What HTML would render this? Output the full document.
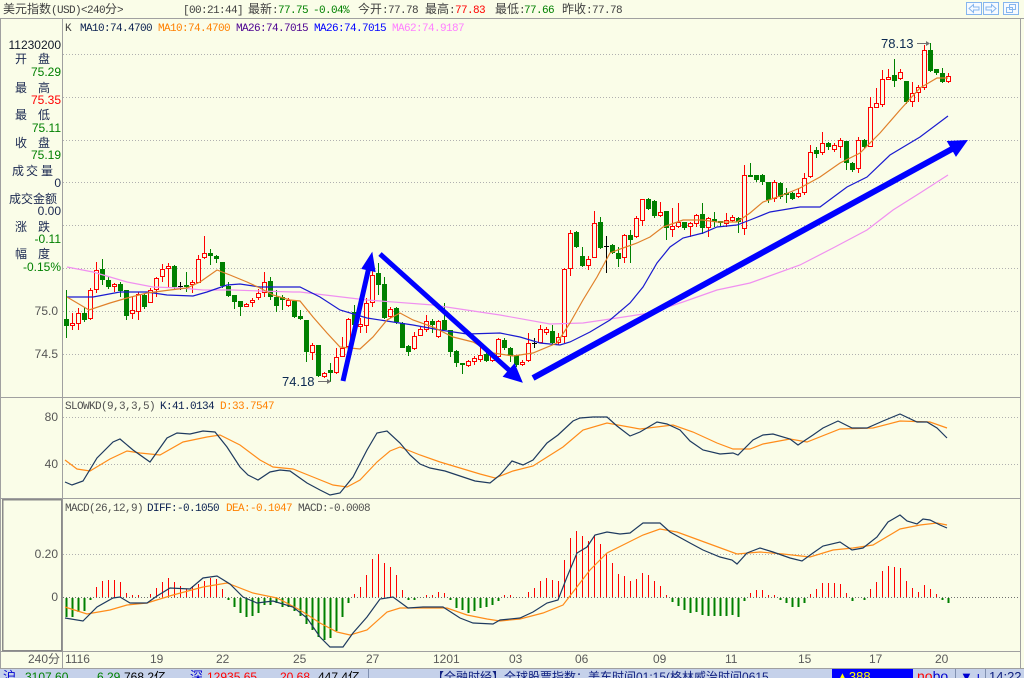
<!DOCTYPE html>
<html><head><meta charset="utf-8">
<style>
html,body{margin:0;padding:0;background:#fafde8;}
svg{display:block}
.m{font-family:"Liberation Mono",monospace;font-size:11px;letter-spacing:-0.6px}
.c{font-family:"Liberation Sans","WenQuanYi Zen Hei","Noto Sans CJK SC",sans-serif;font-size:12px;letter-spacing:0}
.s{font-family:"Liberation Sans","WenQuanYi Zen Hei","Noto Sans CJK SC",sans-serif;font-size:12px}
</style></head><body>
<svg width="1024" height="678" viewBox="0 0 1024 678" xmlns="http://www.w3.org/2000/svg">
<rect x="0" y="0" width="1024" height="678" fill="#fafde8"/>

<!-- header -->
<g class="m" fill="#404040">
<text x="3" y="13"><tspan class="c">美元指数</tspan>(USD)&lt;240<tspan class="c">分</tspan>&gt;</text>
<text x="183" y="13">[00:21:44]</text>
<text x="248" y="13"><tspan class="c">最新</tspan>:</text>
<text x="278" y="13" fill="#008000">77.75</text>
<text x="313" y="13" fill="#008000">-0.04%</text>
<text x="358" y="13"><tspan class="c">今开</tspan>:77.78</text>
<text x="425" y="13"><tspan class="c">最高</tspan>:</text>
<text x="455" y="13" fill="#ff0000">77.83</text>
<text x="495" y="13"><tspan class="c">最低</tspan>:</text>
<text x="524" y="13" fill="#008000">77.66</text>
<text x="562" y="13"><tspan class="c">昨收</tspan>:77.78</text>
</g>
<g stroke="#86b6ee" fill="#f6faff" shape-rendering="crispEdges">
<rect x="966.5" y="2.5" width="15" height="12"/>
<rect x="983.5" y="2.5" width="15" height="12"/>
<rect x="1003.5" y="2.5" width="15" height="12"/>
</g>
<g stroke="#86b6ee" fill="none">
<path d="M969 8.5 L973.5 4.5 V7 H979 V10 H973.5 V12.5 Z"/>
<path d="M996 8.5 L991.5 4.5 V7 H986 V10 H991.5 V12.5 Z"/>
<rect x="1009.5" y="4.5" width="6" height="5"/>
<rect x="1006.5" y="7.5" width="6" height="5"/>
</g>

<!-- frame lines -->
<g stroke="#a0a0a0" shape-rendering="crispEdges">
<line x1="0" y1="18.5" x2="1024" y2="18.5"/>
<line x1="0.5" y1="18" x2="0.5" y2="668"/>
<line x1="62.5" y1="18" x2="62.5" y2="668"/>
<line x1="1020.5" y1="18" x2="1020.5" y2="668"/>
<line x1="0" y1="397.5" x2="1021" y2="397.5"/>
<line x1="0" y1="498.5" x2="1021" y2="498.5"/>
<line x1="0" y1="651.5" x2="1021" y2="651.5"/>
<line x1="0" y1="668.5" x2="1024" y2="668.5"/>
</g>
<rect x="2.5" y="499.5" width="59" height="151" fill="none" stroke="#8a8a8a" stroke-width="1.5" shape-rendering="crispEdges"/>

<!-- grid -->
<g stroke="#b0b0b0" stroke-dasharray="1 2" shape-rendering="crispEdges">
<line x1="63" y1="54.5" x2="1020" y2="54.5"/>
<line x1="63" y1="97.5" x2="1020" y2="97.5"/>
<line x1="63" y1="140.5" x2="1020" y2="140.5"/>
<line x1="63" y1="182.5" x2="1020" y2="182.5"/>
<line x1="63" y1="225.5" x2="1020" y2="225.5"/>
<line x1="63" y1="268.5" x2="1020" y2="268.5"/>
<line x1="63" y1="311.5" x2="1020" y2="311.5"/>
<line x1="63" y1="354.5" x2="1020" y2="354.5"/>
<line x1="63" y1="417.5" x2="1020" y2="417.5"/>
<line x1="63" y1="464.5" x2="1020" y2="464.5"/>
<line x1="63" y1="554.5" x2="1020" y2="554.5"/>
</g>
<line x1="63" y1="597.5" x2="1020" y2="597.5" stroke="#707070" stroke-dasharray="1 2" shape-rendering="crispEdges"/>

<!-- titles -->
<g class="m">
<text x="65" y="31" fill="#404040">K</text>
<text x="80" y="31" fill="#0a2050">MA10:74.4700</text>
<text x="158" y="31" fill="#ff8000">MA10:74.4700</text>
<text x="236" y="31" fill="#4b0090">MA26:74.7015</text>
<text x="314" y="31" fill="#0000ff">MA26:74.7015</text>
<text x="392" y="31" fill="#ff80ff">MA62:74.9187</text>
<text x="65" y="409" fill="#505050">SLOWKD(9,3,3,5)</text>
<text x="160" y="409" fill="#0a2050">K:41.0134</text>
<text x="220" y="409" fill="#ff8000">D:33.7547</text>
<text x="65" y="511" fill="#505050">MACD(26,12,9)</text>
<text x="147" y="511" fill="#0a2050">DIFF:-0.1050</text>
<text x="226" y="511" fill="#ff8000">DEA:-0.1047</text>
<text x="298" y="511" fill="#505050">MACD:-0.0008</text>
</g>

<!-- left info panel -->
<g class="s" fill="#1a2850">
<text x="61" y="49" text-anchor="end" fill="#101828">11230200</text>
<text x="15" y="63">开</text><text x="38" y="63">盘</text>
<text x="61" y="76" text-anchor="end" fill="#008000">75.29</text>
<text x="15" y="92">最</text><text x="38" y="92">高</text>
<text x="61" y="104" text-anchor="end" fill="#ff0000">75.35</text>
<text x="15" y="119">最</text><text x="38" y="119">低</text>
<text x="61" y="132" text-anchor="end" fill="#008000">75.11</text>
<text x="15" y="147">收</text><text x="38" y="147">盘</text>
<text x="61" y="159" text-anchor="end" fill="#008000">75.19</text>
<text x="12" y="175">成</text><text x="26" y="175">交</text><text x="41" y="175">量</text>
<text x="61" y="187" text-anchor="end">0</text>
<text x="9" y="203">成交金额</text>
<text x="61" y="215" text-anchor="end">0.00</text>
<text x="15" y="231">涨</text><text x="38" y="231">跌</text>
<text x="61" y="243" text-anchor="end" fill="#008000">-0.11</text>
<text x="15" y="258">幅</text><text x="38" y="258">度</text>
<text x="61" y="271" text-anchor="end" fill="#008000">-0.15%</text>
</g>

<!-- y labels -->
<g class="s" fill="#555" text-anchor="end">
<text x="58" y="315">75.0</text>
<text x="58" y="358">74.5</text>
<text x="58" y="421">80</text>
<text x="58" y="468">40</text>
<text x="58" y="558">0.20</text>
<text x="58" y="601">0</text>
</g>

<!-- x labels -->
<g class="s" fill="#5a5a5a">
<text x="28" y="663">240分</text>
<text x="65" y="663">1116</text>
<text x="150" y="663">19</text>
<text x="216" y="663">22</text>
<text x="293" y="663">25</text>
<text x="366" y="663">27</text>
<text x="433" y="663">1201</text>
<text x="509" y="663">03</text>
<text x="575" y="663">06</text>
<text x="653" y="663">09</text>
<text x="725" y="663">11</text>
<text x="798" y="663">15</text>
<text x="869" y="663">17</text>
<text x="935" y="663">20</text>
</g>

<!-- candles -->
<g shape-rendering="crispEdges">
<path stroke="#008000" fill="none" d="M66.5 290V338M84.5 307V322M102.5 259V285M108.5 277V289M120.5 282V297M126.5 290V320M144.5 293V309M174.5 265V290M186.5 272V292M210.5 249V265M216.5 255V263M222.5 262V288M228.5 282V297M234.5 295V309M240.5 301V316M270.5 277V300M276.5 290V312M282.5 295V310M294.5 300V318M300.5 310V320M306.5 320V362M318.5 345V377M330.5 363V382M354.5 305V330M378.5 263V295M384.5 277V319M396.5 307V324M402.5 322V348M408.5 345V356M432.5 319V333M444.5 303V330M450.5 330V357M456.5 350V367M462.5 363V374M486.5 350V362M504.5 338V350M510.5 347V362M516.5 355V367M552.5 325V345M576.5 231V248M582.5 247V267M600.5 217V249M612.5 244V254M618.5 247V267M630.5 230V263M648.5 198V210M654.5 200V218M666.5 211V240M684.5 222V230M702.5 203V234M714.5 212V227M720.5 221V227M738.5 217V233M750.5 163V177M756.5 175V182M762.5 174V185M768.5 182V203M780.5 182V199M786.5 188V203M792.5 192V200M816.5 147V158M828.5 142V150M846.5 141V170M852.5 162V172M864.5 139V149M894.5 59V87M906.5 81V104M930.5 43V72M936.5 69V75M942.5 68V83"/>
<path fill="#008000" d="M64 319h5v7h-5zM82 313h5v7h-5zM100 269h5v11h-5zM106 280h5v7h-5zM118 284h5v7h-5zM124 290h5v26h-5zM142 295h5v12h-5zM172 266h5v21h-5zM184 285h5v2h-5zM208 253h5v3h-5zM214 256h5v3h-5zM220 262h5v24h-5zM226 286h5v10h-5zM232 295h5v7h-5zM238 301h5v6h-5zM268 281h5v16h-5zM274 297h5v9h-5zM280 297h5v3h-5zM292 301h5v16h-5zM298 316h5v3h-5zM304 320h5v32h-5zM316 345h5v31h-5zM328 370h5v3h-5zM352 312h5v13h-5zM376 273h5v12h-5zM382 284h5v34h-5zM394 308h5v14h-5zM400 323h5v25h-5zM406 346h5v6h-5zM430 321h5v4h-5zM442 320h5v10h-5zM448 330h5v22h-5zM454 351h5v12h-5zM460 363h5v2h-5zM484 354h5v7h-5zM502 340h5v8h-5zM508 348h5v8h-5zM514 355h5v10h-5zM550 331h5v12h-5zM574 232h5v15h-5zM580 256h5v10h-5zM598 222h5v26h-5zM610 245h5v8h-5zM616 253h5v6h-5zM628 235h5v5h-5zM646 199h5v10h-5zM652 201h5v15h-5zM664 211h5v17h-5zM682 222h5v6h-5zM700 214h5v14h-5zM712 219h5v3h-5zM718 221h5v2h-5zM736 218h5v4h-5zM748 175h5v2h-5zM754 175h5v5h-5zM760 175h5v7h-5zM766 182h5v18h-5zM778 183h5v14h-5zM784 193h5v2h-5zM790 193h5v6h-5zM814 150h5v4h-5zM826 143h5v4h-5zM844 141h5v22h-5zM850 163h5v7h-5zM862 140h5v7h-5zM892 75h5v6h-5zM904 81h5v21h-5zM928 50h5v21h-5zM934 69h5v4h-5zM940 73h5v9h-5z"/>
<path stroke="#ff0000" fill="none" d="M72.5 313V330M78.5 308V330M90.5 288V320M96.5 262V293M114.5 283V292M132.5 297V319M138.5 292V320M150.5 288V303M156.5 277V297M162.5 264V282M168.5 263V287M192.5 280V293M198.5 255V283M204.5 236V259M246.5 303V307M252.5 298V307M258.5 289V300M264.5 272V297M288.5 298V307M312.5 343V360M324.5 372V378M336.5 348V374M342.5 337V357M348.5 318V348M360.5 318V333M366.5 298V333M372.5 263V307M390.5 307V318M414.5 332V350M420.5 327V336M426.5 315V332M438.5 320V338M468.5 360V367M474.5 356V365M480.5 347V362M492.5 353V362M498.5 338V358M522.5 360V366M528.5 333V362M540.5 325V343M546.5 327V335M558.5 333V345M564.5 268V343M570.5 230V276M588.5 256V270M594.5 211V258M624.5 234V263M636.5 216V238M642.5 199V226M660.5 202V217M672.5 208V237M678.5 203V228M690.5 222V237M696.5 214V227M708.5 217V237M726.5 213V227M732.5 215V222M744.5 165V235M774.5 180V202M798.5 188V198M804.5 173V195M810.5 145V178M822.5 132V155M834.5 143V152M840.5 138V158M858.5 137V173M870.5 97V147M876.5 88V108M882.5 70V107M888.5 69V80M900.5 69V80M912.5 82V107M918.5 85V102M924.5 45V90M948.5 73V83"/>
<path stroke="#ff0000" fill="#fafde8" d="M70.5 323.5h4v2h-4zM76.5 313.5h4v10h-4zM88.5 290.5h4v28h-4zM94.5 270.5h4v19h-4zM112.5 284.5h4v2h-4zM130.5 310.5h4v3h-4zM136.5 294.5h4v17h-4zM148.5 290.5h4v12h-4zM154.5 278.5h4v11h-4zM160.5 269.5h4v7h-4zM166.5 266.5h4v2h-4zM190.5 282.5h4v2h-4zM196.5 259.5h4v23h-4zM202.5 253.5h4v4h-4zM244.5 304.5h4v2h-4zM250.5 300.5h4v2h-4zM256.5 293.5h4v4h-4zM262.5 282.5h4v10h-4zM286.5 300.5h4v5h-4zM310.5 345.5h4v7h-4zM322.5 373.5h4v3h-4zM334.5 357.5h4v15h-4zM340.5 348.5h4v8h-4zM346.5 319.5h4v27h-4zM358.5 324.5h4v2h-4zM364.5 303.5h4v22h-4zM370.5 275.5h4v27h-4zM388.5 309.5h4v7h-4zM412.5 336.5h4v12h-4zM418.5 329.5h4v6h-4zM424.5 321.5h4v8h-4zM436.5 321.5h4v15h-4zM466.5 361.5h4v4h-4zM472.5 358.5h4v3h-4zM478.5 355.5h4v4h-4zM490.5 356.5h4v4h-4zM496.5 339.5h4v17h-4zM520.5 362.5h4v2h-4zM526.5 343.5h4v17h-4zM538.5 329.5h4v13h-4zM544.5 329.5h4v3h-4zM556.5 337.5h4v5h-4zM562.5 269.5h4v67h-4zM568.5 233.5h4v35h-4zM586.5 259.5h4v6h-4zM592.5 223.5h4v34h-4zM622.5 235.5h4v22h-4zM634.5 218.5h4v18h-4zM640.5 199.5h4v21h-4zM658.5 212.5h4v3h-4zM670.5 226.5h4v3h-4zM676.5 222.5h4v4h-4zM688.5 223.5h4v3h-4zM694.5 215.5h4v8h-4zM706.5 218.5h4v9h-4zM724.5 220.5h4v3h-4zM730.5 217.5h4v3h-4zM742.5 175.5h4v53h-4zM772.5 182.5h4v16h-4zM796.5 193.5h4v3h-4zM802.5 178.5h4v14h-4zM808.5 152.5h4v24h-4zM820.5 143.5h4v9h-4zM832.5 145.5h4v4h-4zM838.5 140.5h4v6h-4zM856.5 140.5h4v28h-4zM868.5 107.5h4v39h-4zM874.5 103.5h4v4h-4zM880.5 79.5h4v25h-4zM886.5 77.5h4v2h-4zM898.5 72.5h4v6h-4zM910.5 93.5h4v8h-4zM916.5 87.5h4v5h-4zM922.5 50.5h4v37h-4zM946.5 76.5h4v5h-4z"/>
<path stroke="#000" fill="none" d="M180.5 282V290M178 286.5h5M534.5 338V348M532 343.5h5M606.5 236V273M604 246.5h5"/>
</g>

<!-- moving averages -->
<g fill="none" stroke-width="1.2">
<polyline stroke="#f090f0" points="67,267 93,272 127,282 153,287 180,288 203,290 233,290 260,291 293,292 300,292 367,300 433,305 500,315 550,324 583,323 617,318 650,313 683,302 717,290 750,283 800,265 833,248 867,230 893,210 920,193 948,175"/>
<polyline stroke="#1a1ad0" points="67,297 93,297 120,292 147,292 167,295 193,296 207,292 227,285 240,284 260,287 277,287 300,287 320,297 340,310 367,318 393,322 413,325 440,330 467,334 500,333 520,337 540,343 560,345 570,342 590,332 610,320 630,303 643,287 657,263 670,247 683,238 703,233 717,227 737,225 750,220 770,212 800,207 820,207 847,187 867,177 890,155 920,137 948,116"/>
<polyline stroke="#e0802a" points="67,297 89,310 110,303 127,298 147,293 170,290 187,288 200,282 217,270 230,275 247,282 260,288 273,295 290,300 300,301 313,317 327,333 340,347 360,349 373,337 387,320 400,313 413,320 433,327 453,337 473,342 493,353 513,356 533,353 557,343 570,323 583,300 597,277 610,253 623,248 637,243 650,237 663,227 683,220 703,220 717,222 737,222 750,213 763,202 783,195 800,188 820,177 840,163 860,153 880,133 900,110 920,88 937,78 948,78"/>
</g>

<!-- max/min labels -->
<g font-family="Liberation Sans, sans-serif" font-size="13" fill="#0a2850">
<text x="881" y="48">78.13</text>
<text x="282" y="386">74.18</text>
</g>
<g stroke="#707070" fill="#707070">
<line x1="917" y1="43.5" x2="927" y2="43.5"/>
<path d="M930 43.5 L926 41 L926 46 Z" stroke="none"/>
<line x1="318" y1="381.5" x2="328" y2="381.5"/>
<path d="M331 381.5 L327 379 L327 384 Z" stroke="none"/>
</g>

<!-- KD -->
<g fill="none" stroke-width="1.2">
<polyline stroke="#ff8c1a" points="65,460 77,469 90,471 110,459 127,451 140,453 160,455 183,442 207,437 220,435 240,445 260,460 273,467 293,469 313,477 333,485 347,487 360,480 377,462 390,451 400,447 420,455 440,462 460,468 480,474 495,478 513,471 533,466 563,447 583,430 607,423 640,429 673,425 693,432 717,443 733,449 750,449 763,444 790,439 807,442 840,429 873,428 900,421 930,422 947,428"/>
<polyline stroke="#1e3a5f" points="65,482 72,485 83,481 97,458 113,442 120,439 133,450 150,462 167,438 177,433 190,434 203,431 215,432 227,447 240,467 248,475 258,480 270,472 280,470 290,471 307,483 320,490 330,495 340,493 353,477 367,450 377,433 387,431 400,443 410,455 420,464 430,468 445,471 460,476 475,481 490,483 500,475 512,461 523,465 533,460 547,443 558,435 573,421 580,418 593,417 607,417 617,426 630,436 640,432 657,422 667,424 680,430 690,441 703,450 720,454 733,453 738,455 753,440 763,435 773,434 790,439 798,445 813,435 823,428 838,421 852,428 867,428 883,421 900,414 917,422 927,422 937,428 947,438"/>
</g>

<!-- MACD histogram -->
<g shape-rendering="crispEdges" fill="none">
<path stroke="#ff0000" d="M96.5 597V587M102.5 597V581M108.5 597V580M114.5 597V580M120.5 597V582M126.5 597V593M132.5 597V595M138.5 597V595M150.5 597V594M156.5 597V588M162.5 597V582M168.5 597V578M174.5 597V582M180.5 597V586M186.5 597V589M192.5 597V586M198.5 597V584M204.5 597V581M210.5 597V578M216.5 597V579M222.5 597V589M354.5 597V594M360.5 597V587M366.5 597V575M372.5 597V559M378.5 597V554M384.5 597V563M390.5 597V567M396.5 597V575M402.5 597V590M426.5 597V595M432.5 597V595M438.5 597V592M444.5 597V593M504.5 597V595M510.5 597V595M528.5 597V592M534.5 597V588M540.5 597V581M546.5 597V578M552.5 597V580M558.5 597V581M564.5 597V560M570.5 597V538M576.5 597V531M582.5 597V536M588.5 597V541M594.5 597V535M600.5 597V544M606.5 597V553M612.5 597V563M618.5 597V574M624.5 597V576M630.5 597V581M636.5 597V579M642.5 597V573M648.5 597V575M654.5 597V581M660.5 597V586M666.5 597V595M750.5 597V593M756.5 597V590M762.5 597V590M768.5 597V595M774.5 597V595M810.5 597V594M816.5 597V589M822.5 597V583M828.5 597V583M834.5 597V583M840.5 597V584M846.5 597V593M870.5 597V589M876.5 597V582M882.5 597V571M888.5 597V566M894.5 597V567M900.5 597V568M906.5 597V581M912.5 597V588M918.5 597V592M924.5 597V585M930.5 597V589M936.5 597V594"/>
<path stroke="#008000" stroke-width="2" d="M66.5 598V617M72.5 598V617M78.5 598V612M84.5 598V611M90.5 598V600M228.5 598V600M234.5 598V607M240.5 598V613M246.5 598V617M252.5 598V616M258.5 598V613M264.5 598V605M270.5 598V605M276.5 598V603M282.5 598V607M288.5 598V607M294.5 598V611M300.5 598V616M306.5 598V624M312.5 598V630M318.5 598V637M324.5 598V640M330.5 598V638M336.5 598V631M342.5 598V617M348.5 598V603M408.5 598V600M414.5 598V600M450.5 598V600M456.5 598V608M462.5 598V610M468.5 598V613M474.5 598V611M480.5 598V608M486.5 598V607M492.5 598V605M498.5 598V601M672.5 598V602M678.5 598V606M684.5 598V610M690.5 598V613M696.5 598V612M702.5 598V615M708.5 598V616M714.5 598V616M720.5 598V616M726.5 598V616M732.5 598V615M738.5 598V617M744.5 598V601M780.5 598V600M786.5 598V603M792.5 598V607M798.5 598V607M804.5 598V603M852.5 598V601M864.5 598V600M942.5 598V600M948.5 598V603"/>
</g>
<g fill="none" stroke-width="1.2">
<polyline stroke="#ff8c1a" points="65,607 87,614 110,610 127,605 147,603 173,595 203,587 227,583 253,593 277,598 300,610 320,623 337,632 350,635 367,630 387,612 400,608 427,608 447,608 467,615 487,619 500,621 520,619 543,613 563,605 573,592 590,570 607,553 627,543 643,535 660,529 677,532 707,543 737,554 760,552 783,554 810,557 833,550 853,548 873,545 900,529 920,525 937,523 947,525"/>
<polyline stroke="#1e3a5f" points="65,618 83,621 97,607 113,598 120,597 130,603 147,603 157,596 170,588 190,589 203,578 217,576 230,584 243,597 257,603 273,601 293,607 307,618 320,637 330,647 343,647 353,633 367,617 380,599 393,597 408,608 423,607 443,607 460,618 473,623 493,624 500,620 520,618 533,612 547,603 558,600 567,577 577,553 587,547 595,535 607,532 620,534 630,533 643,523 660,523 670,532 690,543 703,550 720,557 732,560 737,564 747,553 760,548 773,552 790,558 802,561 813,553 823,546 840,542 852,550 863,548 877,537 888,522 900,515 907,521 917,524 923,519 930,520 940,525 947,528"/>
</g>

<!-- hand-drawn arrows -->
<g fill="#0000ff" stroke="#0000ff">
<line x1="343" y1="381" x2="368.4" y2="269.6" stroke-width="5"/>
<path d="M372 253 L375 271.5 L362 268.5 Z" stroke-width="1"/>
<line x1="380" y1="254" x2="509" y2="370" stroke-width="5"/>
<path d="M522 382 L503.5 376.5 L514.5 364 Z" stroke-width="1"/>
<line x1="533" y1="378" x2="952" y2="149" stroke-width="6"/>
<path d="M967 140.5 L956 156 L947.5 141.5 Z" stroke-width="1"/>
</g>

<!-- status bar -->
<rect x="0" y="669" width="1024" height="9" fill="#c5d1ea"/>
<g font-family="Liberation Sans, 'WenQuanYi Zen Hei', sans-serif" font-size="12">
<text x="3" y="681" fill="#0000d0" font-size="13">沪</text>
<text x="25" y="681" fill="#008000">3107.60</text>
<text x="97" y="681" fill="#008000">6.29</text>
<text x="124" y="681" fill="#000">768.2亿</text>
<text x="190" y="681" fill="#0000d0" font-size="13">深</text>
<text x="207" y="681" fill="#ff0000">12935.65</text>
<text x="280" y="681" fill="#ff0000">20.68</text>
<text x="318" y="681" fill="#000">447.4亿</text>
<text x="432" y="681" fill="#102080">【全融时经】全球股票指数：美东时间01:15(格林威治时间0615</text>
</g>
<line x1="368.5" y1="669" x2="368.5" y2="678" stroke="#8090b0"/>
<rect x="832" y="669" width="81" height="9" fill="#0000ff"/>
<text x="836" y="681" font-family="Liberation Sans, sans-serif" font-size="13" fill="#ffff00">▲388</text>
<text x="917" y="681" font-family="Liberation Sans, sans-serif" font-size="14" fill="#ff0000">no<tspan fill="#0000d0">bo</tspan></text>
<line x1="955.5" y1="669" x2="955.5" y2="678" stroke="#8090b0"/>
<text x="960" y="681" font-family="Liberation Sans, sans-serif" font-size="13" fill="#0000d0">▼ ı</text>
<line x1="985.5" y1="669" x2="985.5" y2="678" stroke="#8090b0"/>
<text x="989" y="681" font-family="Liberation Sans, sans-serif" font-size="13" fill="#102080">14:22</text>
</svg>
</body></html>
